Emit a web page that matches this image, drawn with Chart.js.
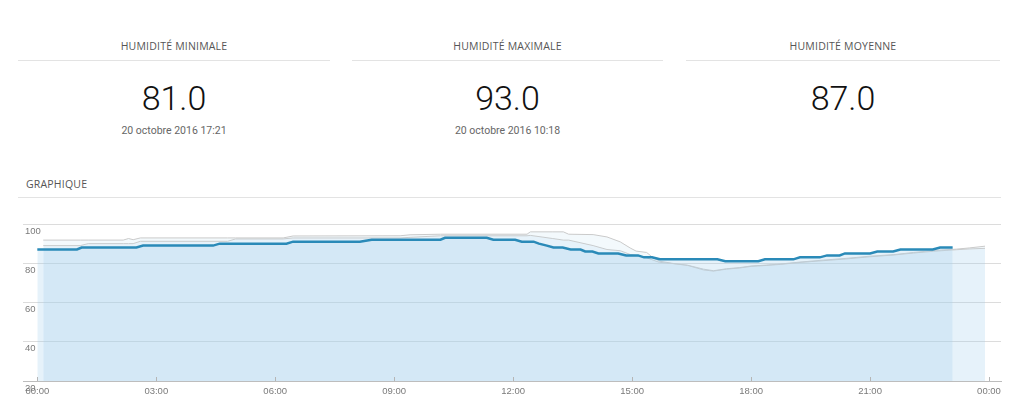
<!DOCTYPE html>
<html>
<head>
<meta charset="utf-8">
<script src="https://cdn.jsdelivr.net/npm/chart.js@4.4.1/dist/chart.umd.min.js"></script>
<style>
  html, body { margin: 0; padding: 0; background: #fff; }
  body { width: 1024px; height: 417px; position: relative; overflow: hidden; font-family: "Open Sans", "Noto Sans", sans-serif; }
  .panel { position: absolute; top: 0; height: 150px; }
  .ptitle { position: absolute; left: 0; right: 0; top: 39px; text-align: center; font-size: 10.5px; color: #555; letter-spacing: 0.2px; }
  .pline { position: absolute; left: 0; right: 0; top: 60px; height: 1px; background: #e3e3e3; }
  .pvalue { position: absolute; left: 0; right: 0; top: 76px; text-align: center; font-family: Roboto, "Open Sans", sans-serif; font-weight: 300; font-size: 34px; line-height: 44px; color: #111; }
  .pdate { position: absolute; left: 0; right: 0; top: 124px; text-align: center; font-family: Roboto, sans-serif; font-size: 10.5px; color: #666; }
  .gtitle { position: absolute; left: 26px; top: 177px; font-size: 10.5px; color: #555; letter-spacing: 0.2px; }
  .gline { position: absolute; left: 18px; width: 983px; top: 197px; height: 1px; background: #e3e3e3; }
  #wrap { position: absolute; left: 0; top: 210px; width: 1024px; height: 207px; }
</style>
</head>
<body>
<div class="panel" style="left:18px;width:312px;">
  <div class="ptitle" id="t0"></div><div class="pline"></div>
  <div class="pvalue" id="v0"></div><div class="pdate" id="d0"></div>
</div>
<div class="panel" style="left:352px;width:311px;">
  <div class="ptitle" id="t1"></div><div class="pline"></div>
  <div class="pvalue" id="v1"></div><div class="pdate" id="d1"></div>
</div>
<div class="panel" style="left:686px;width:314px;">
  <div class="ptitle" id="t2"></div><div class="pline"></div>
  <div class="pvalue" id="v2"></div><div class="pdate" id="d2"></div>
</div>
<div class="gtitle">GRAPHIQUE</div>
<div class="gline"></div>
<div id="wrap"><canvas id="c"></canvas></div>
<script>
// ---- summary data ----
const statTitles = ['HUMIDITÉ MINIMALE', 'HUMIDITÉ MAXIMALE', 'HUMIDITÉ MOYENNE'];
const statValues = ['81.0', '93.0', '87.0'];
const statDates = ['20 octobre 2016 17:21', '20 octobre 2016 10:18', ''];

// ---- main series (humidity) ----
const blueTimes = ['00:00','01:00','01:07','02:30','02:40','04:26','04:36','06:17','06:27','08:08','08:26','10:10','10:17','11:20','11:30','12:03','12:13','12:31','12:39','12:51','13:01','13:15','13:27','13:42','13:49','14:00','14:09','14:39','14:51','15:09','15:18','15:30','15:42','17:09','17:21','18:11','18:21','19:04','19:14','19:44','19:55','20:14','20:22','21:00','21:11','21:35','21:46','22:35','22:46','23:05'];
const blueValues = [87,87,88,88,89,89,90,90,91,91,92,92,93,93,92,92,91,91,90,89,88,88,87,87,86,86,85,85,84,84,83,83,82,82,81,81,82,82,83,83,84,84,85,85,86,86,87,87,88,88];

// ---- reference band (grey max / min lines) ----
const bandTimes = ['00:09','01:05','01:17','02:10','02:18','02:25','02:36','04:48','05:00','06:12','06:27','09:09','09:24','10:10','12:21','12:26','13:00','13:16','13:24','14:01','14:22','14:42','14:57','15:06','15:22','15:30','15:41','16:00','16:24','16:48','17:03','17:23','17:43','18:00','18:24','18:44','19:14','19:49','20:24','21:00','21:36','22:06','22:36','23:11','23:30','23:54'];
const bandMax = [91.8,91.8,91.8,91.8,92.6,92.0,92.9,92.9,92.9,92.9,93.9,94.0,94.5,94.8,94.8,96.0,96.0,96.0,94.8,94.6,93.4,90.9,87.8,86.2,85.5,83.3,81.1,80.0,79.0,77.0,76.2,77.2,77.8,78.6,79.1,79.6,80.6,81.6,82.5,83.6,84.4,85.5,86.5,87.2,87.8,88.7];
const bandMin = [89.0,89.0,90.0,90.0,90.0,90.0,91.2,91.2,92.4,92.4,92.9,92.9,93.2,94.0,94.0,94.2,92.6,91.8,91.8,89.0,87.0,86.4,84.5,84.0,82.8,81.8,80.5,79.9,78.9,76.6,76.0,77.0,77.6,78.4,78.9,79.4,80.4,81.3,82.2,83.3,84.2,85.2,86.1,86.9,87.3,87.6];

// ---- axis ticks ----
const xTickHours = [0, 3, 6, 9, 12, 15, 18, 21, 24];
const yTickValues = [20, 40, 60, 80, 100];

statTitles.forEach((t, i) => {
  document.getElementById('t' + i).textContent = t;
  document.getElementById('v' + i).textContent = statValues[i];
  document.getElementById('d' + i).textContent = statDates[i];
});

const toHours = s => { const [h, m] = s.split(':').map(Number); return h + m / 60; };
const pts = (times, vals) => times.map((t, i) => ({ x: toHours(t), y: vals[i] }));
const pad2 = n => (n < 10 ? '0' : '') + n;

const fillColor = 'rgba(166,209,237,0.28)';

const innerTicks = {
  id: 'innerTicks',
  afterDatasetsDraw(chart) {
    const xs = chart.scales.x, ctx = chart.ctx, b = chart.chartArea.bottom;
    ctx.save();
    ctx.strokeStyle = '#b5b5b5';
    ctx.lineWidth = 1;
    xs.ticks.forEach(t => {
      const px = Math.round(xs.getPixelForValue(t.value)) + 0.5;
      ctx.beginPath(); ctx.moveTo(px, b - 4); ctx.lineTo(px, b); ctx.stroke();
    });
    ctx.restore();
  }
};

new Chart(document.getElementById('c'), {
  type: 'line',
  data: {
    datasets: [
      { label: 'Humidité', data: pts(blueTimes, blueValues), borderColor: '#2a8ab8', borderWidth: 2.5,
        backgroundColor: fillColor, fill: 'origin', pointRadius: 0, tension: 0 },
      { label: 'Max', data: pts(bandTimes, bandMax), borderColor: '#cacaca', borderWidth: 1,
        backgroundColor: 'rgba(190,220,240,0.18)', fill: 2, pointRadius: 0, tension: 0 },
      { label: 'Min', data: pts(bandTimes, bandMin), borderColor: '#cacaca', borderWidth: 1,
        backgroundColor: fillColor, fill: 'origin', pointRadius: 0, tension: 0 }
    ]
  },
  options: {
    responsive: true,
    maintainAspectRatio: false,
    animation: false,
    layout: { padding: { left: 19, right: 23, top: 14, bottom: 14.6 } },
    plugins: { legend: { display: false }, tooltip: { enabled: false } },
    scales: {
      x: {
        type: 'linear',
        min: -0.361,
        max: 24.303,
        afterBuildTicks: s => { s.ticks = xTickHours.map(v => ({ value: v })); },
        grid: { display: false, drawTicks: false },
        border: { display: true, color: '#bdbdbd', width: 1 },
        ticks: { padding: 5, color: '#7a7a7a', font: { family: 'Liberation Sans', size: 9.5 },
                 maxRotation: 0, autoSkip: false,
                 callback: v => pad2(((v % 24) + 24) % 24) + ':00' }
      },
      y: {
        min: 20,
        max: 100,
        afterBuildTicks: s => { s.ticks = yTickValues.map(v => ({ value: v })); },
        grid: { color: '#dcdcdc', drawTicks: false },
        border: { display: false },
        ticks: { mirror: true, padding: 2, labelOffset: 7, z: 1, color: '#7a7a7a',
                 font: { family: 'Liberation Sans', size: 9.5 } }
      }
    }
  },
  plugins: [innerTicks]
});
</script>
</body>
</html>
